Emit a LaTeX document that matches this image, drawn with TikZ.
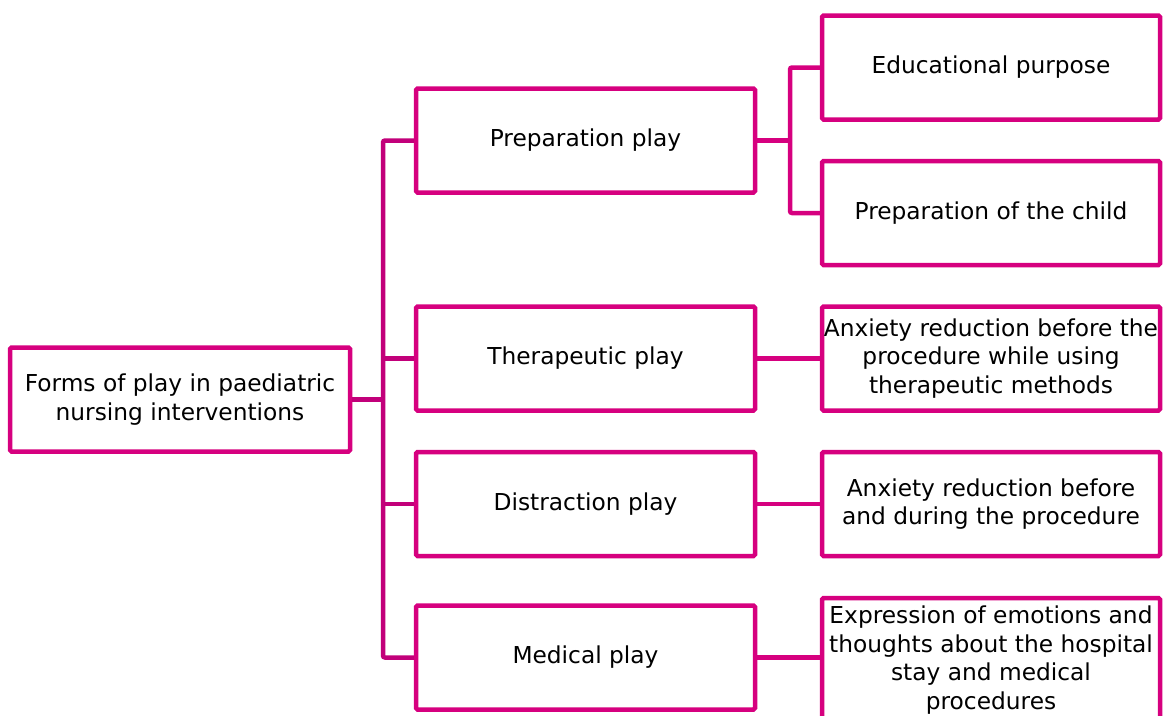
\documentclass[tikz,border=0pt]{standalone}
\usepackage{fontspec}
\setmainfont{DejaVu Sans}
\usetikzlibrary{calc}
\definecolor{pink}{HTML}{D6007F}
\definecolor{trunk}{HTML}{C2007A}

\begin{document}
\begin{tikzpicture}[x=1pt,y=-1pt,
    box/.style={rectangle,draw=pink,line width=4.5pt,rounded corners=1.5pt,fill=white,minimum width=#1,minimum height=104pt,align=center,font=\fontsize{23.3}{28.5}\selectfont,inner sep=0pt},
    box/.default=338pt,
    link/.style={draw=pink,line width=4.5pt,rounded corners=2pt},
]
\useasboundingbox (0,0) rectangle (1164,715);

% Root
\node[box=340pt] (root) at (180,399.5) {Forms of play in paediatric\\nursing interventions};

% Forms of play
\node[box=339pt] (prep) at (585.5,140.5) {Preparation play};
\node[box=339pt] (ther) at (585.5,358.5) {Therapeutic play};
\node[box=339pt] (dist) at (585.5,504) {Distraction play};
\node[box=339pt] (med) at (585.5,657.5) {Medical play};

% Purposes
\node[box] (edu) at (991,67.5) {Educational purpose};
\node[box] (child) at (991,213) {Preparation of the child};
\node[box] (anxt) at (991,358.5) {Anxiety reduction before the\\procedure while using\\therapeutic methods};
\node[box] (anxd) at (991,504) {Anxiety reduction before\\and during the procedure};
\node[box,minimum height=124pt] (expr) at (991,660) {Expression of emotions and\\thoughts about the hospital\\stay and medical\\procedures};

% Trunk
\coordinate (tk) at (383,399.5);
\draw[link,draw=trunk] (root.east) -- (tk);
\draw[link,draw=trunk] (prep.west) -| (tk) |- (med.west);
\draw[link,draw=trunk] (tk |- ther.west) -- (ther.west);
\draw[link,draw=trunk] (tk |- dist.west) -- (dist.west);

% Preparation branches
\coordinate (pb) at (790,140.5);
\draw[link] (prep.east) -- (pb);
\draw[link] (edu.west) -| (pb) |- (child.west);

% Other branches
\draw[link] (ther.east) -- (anxt.west);
\draw[link] (dist.east) -- (anxd.west);
\draw[link] (med.east) -- (med.east -| expr.west);
\end{tikzpicture}
\end{document}
